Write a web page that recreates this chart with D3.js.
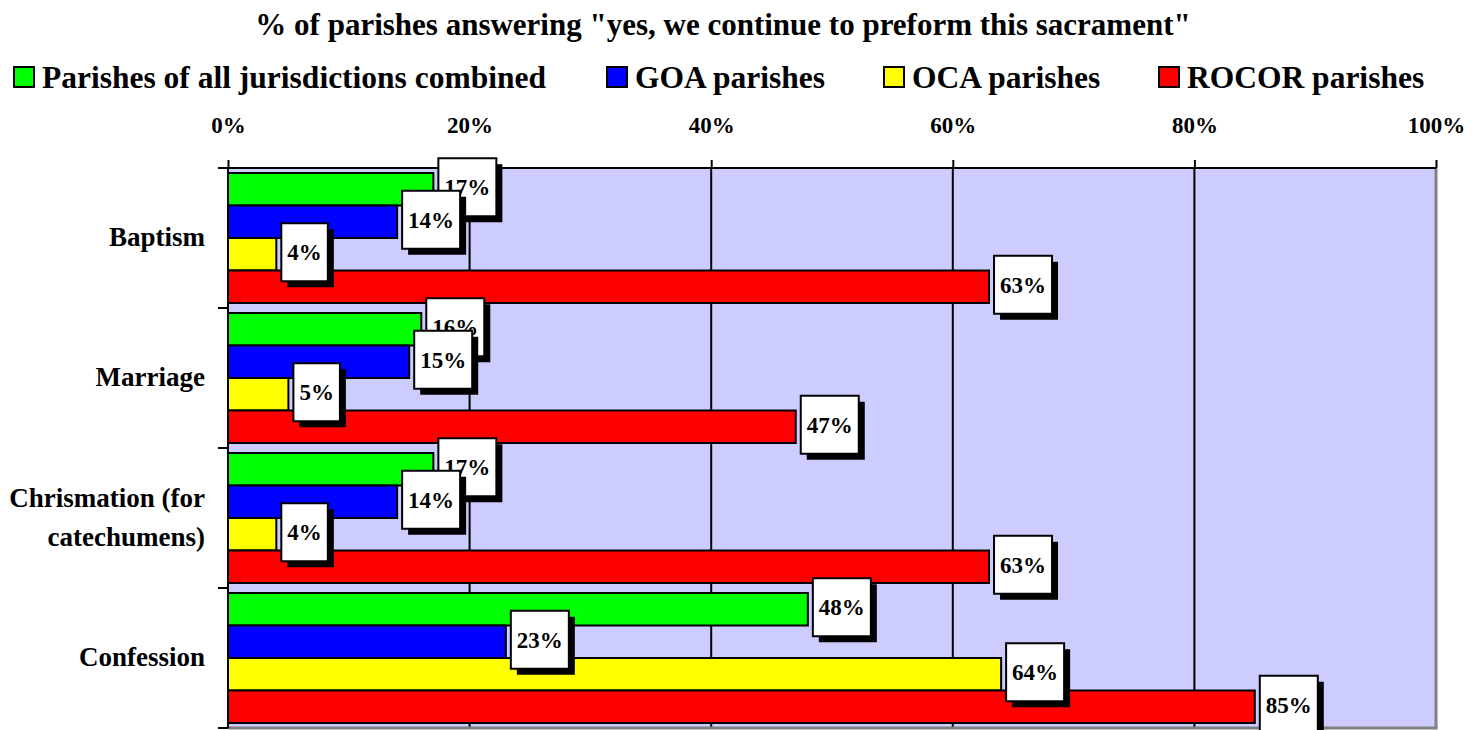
<!DOCTYPE html>
<html>
<head>
<meta charset="utf-8">
<script src="https://cdn.jsdelivr.net/npm/d3@7"></script>
<style>
  html, body { margin: 0; padding: 0; background: #fff; }
  svg { display: block; }
  text { font-family: "Liberation Serif", "Times New Roman", serif; font-weight: bold; fill: #000; }
</style>
</head>
<body>
<svg id="chart" width="1476" height="730"></svg>
<script>
// ---- data ----
const title = '% of parishes answering "yes, we continue to preform this sacrament"';
const categories = ["Baptism", "Marriage", "Chrismation (for catechumens)", "Confession"];
const seriesNames = ["Parishes of all jurisdictions combined", "GOA parishes", "OCA parishes", "ROCOR parishes"];
const seriesColors = ["#00FF00", "#0000FF", "#FFFF00", "#FF0000"];
const allJurisdictions = [17, 16, 17, 48];
const goaParishes = [14, 15, 14, 23];
const ocaParishes = [4, 5, 4, 64];
const rocorParishes = [63, 47, 63, 85];
const xTicks = [0, 20, 40, 60, 80, 100];

const seriesValues = [allJurisdictions, goaParishes, ocaParishes, rocorParishes];

// ---- layout ----
const svg = d3.select("#chart");
const pLeft = 228, pRight = 1436, pTop = 168, pBottom = 728;

const x = d3.scaleLinear().domain([0, 100]).range([pLeft, pRight]);
const y = d3.scaleBand().domain(categories).range([pTop, pBottom]).padding(0);
const ySub = d3.scaleBand().domain(seriesNames).range([5, y.bandwidth() - 5]).padding(0);

// title
svg.append("text")
  .attr("x", 723).attr("y", 35)
  .attr("text-anchor", "middle")
  .style("font-size", "31px")
  .text(title);

// legend
const legendX = [13, 606, 883, 1158];
const lg = svg.append("g").selectAll("g").data(seriesNames).join("g")
  .attr("transform", (d, i) => `translate(${legendX[i]},66)`);
lg.append("rect").attr("x", 1).attr("y", 1).attr("width", 20).attr("height", 20)
  .attr("fill", (d, i) => seriesColors[i]).attr("stroke", "#000").attr("stroke-width", 2);
lg.append("text").attr("x", 29).attr("y", 22).style("font-size", "31.5px").text(d => d);

// plot background
svg.append("rect").attr("x", pLeft).attr("y", pTop).attr("width", pRight - pLeft).attr("height", pBottom - pTop)
  .attr("fill", "#CCCCFF");

// gridlines
svg.append("g").selectAll("line").data(xTicks.filter(t => t > 0 && t < 100)).join("line")
  .attr("x1", d => x(d)).attr("x2", d => x(d)).attr("y1", pTop).attr("y2", pBottom)
  .attr("stroke", "#000").attr("stroke-width", 2);

// gray right / bottom border
svg.append("line").attr("x1", x(100)).attr("x2", x(100)).attr("y1", pTop).attr("y2", pBottom)
  .attr("stroke", "#808080").attr("stroke-width", 3);
svg.append("line").attr("x1", pLeft).attr("x2", x(100) + 1.5).attr("y1", pBottom).attr("y2", pBottom)
  .attr("stroke", "#808080").attr("stroke-width", 3);

// bars
const barData = [];
categories.forEach((c, ci) => {
  seriesNames.forEach((s, si) => {
    barData.push({ cat: c, ser: s, si: si, v: seriesValues[si][ci] });
  });
});
svg.append("g").selectAll("rect").data(barData).join("rect")
  .attr("x", x(0))
  .attr("y", d => y(d.cat) + ySub(d.ser))
  .attr("width", d => x(d.v) - x(0))
  .attr("height", ySub.bandwidth())
  .attr("fill", d => seriesColors[d.si])
  .attr("stroke", "#000").attr("stroke-width", 2);

// top axis
const xAxis = d3.axisTop(x).tickValues(xTicks).tickFormat(d => d + "%").tickSize(8).tickPadding(27);
const ax = svg.append("g").attr("transform", `translate(0,${pTop})`).call(xAxis);
ax.select(".domain").attr("stroke", "#000").attr("stroke-width", 2).attr("d", `M${pLeft},0H${pRight}`);
ax.selectAll(".tick line").attr("stroke", "#000").attr("stroke-width", 2);
ax.selectAll(".tick text")
  .style("font-family", '"Liberation Serif", "Times New Roman", serif')
  .style("font-weight", "bold").style("font-size", "23px").attr("fill", "#000");

// left axis line and ticks at band boundaries
svg.append("line").attr("x1", pLeft).attr("x2", pLeft).attr("y1", pTop).attr("y2", pBottom)
  .attr("stroke", "#000").attr("stroke-width", 2);
const bounds = categories.map(c => y(c)).concat([y(categories[categories.length - 1]) + y.bandwidth()]);
svg.append("g").selectAll("line").data(bounds).join("line")
  .attr("x1", pLeft - 10).attr("x2", pLeft).attr("y1", d => d).attr("y2", d => d)
  .attr("stroke", "#000").attr("stroke-width", 2);

// category labels (wrapped)
const catFont = 27, catLine = 39, catMax = 205;
const catG = svg.append("g");
categories.forEach(c => {
  const words = c.split(" ");
  const lines = [];
  let cur = "";
  const probe = catG.append("text").style("font-size", catFont + "px");
  words.forEach(w => {
    const t = cur ? cur + " " + w : w;
    probe.text(t);
    if (probe.node().getComputedTextLength() > catMax && cur) { lines.push(cur); cur = w; }
    else cur = t;
  });
  lines.push(cur);
  probe.remove();
  const cy = y(c) + y.bandwidth() / 2;
  const first = cy - (lines.length - 1) * catLine / 2 + 8;
  const t = catG.append("text").attr("text-anchor", "end").style("font-size", catFont + "px");
  lines.forEach((l, i) => t.append("tspan").attr("x", 205).attr("y", first + i * catLine).text(l));
});

// value labels
const labFont = 23, boxH = 58, padX = 6, shadow = 6;
const labG = svg.append("g");
barData.forEach(d => {
  const g = labG.append("g");
  const cy = y(d.cat) + ySub(d.ser) + ySub.bandwidth() / 2 - 2;
  const bx = x(d.v) + 5;
  const txt = g.append("text").style("font-size", labFont + "px").text(d.v + "%");
  const w = txt.node().getComputedTextLength() + padX * 2;
  txt.remove();
  g.append("rect").attr("x", bx + shadow).attr("y", cy - boxH / 2 + shadow).attr("width", w).attr("height", boxH)
    .attr("fill", "#000");
  g.append("rect").attr("x", bx).attr("y", cy - boxH / 2).attr("width", w).attr("height", boxH)
    .attr("fill", "#fff").attr("stroke", "#000").attr("stroke-width", 2);
  g.append("text").attr("x", bx + w / 2).attr("y", cy + 8).attr("text-anchor", "middle")
    .style("font-size", labFont + "px").text(d.v + "%");
});
</script>
</body>
</html>
